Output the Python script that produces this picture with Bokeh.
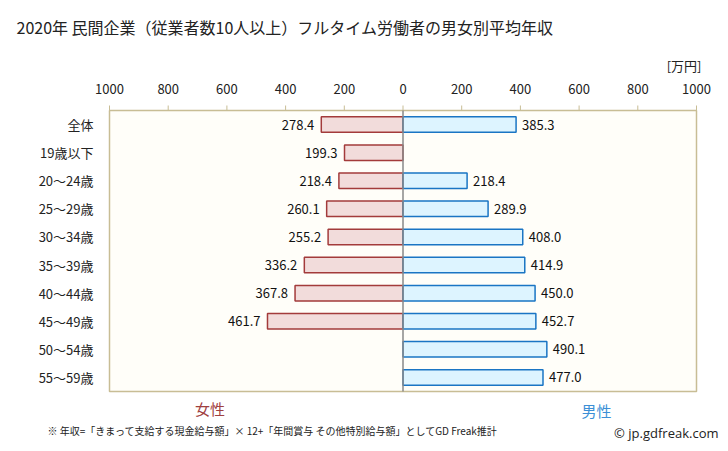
from bokeh.plotting import figure
from bokeh.models import ColumnDataSource, Label, Range1d
from bokeh.core.properties import value
from bokeh.embed import file_html
from bokeh.resources import INLINE

categories = ["全体", "19歳以下", "20～24歳", "25～29歳", "30～34歳",
              "35～39歳", "40～44歳", "45～49歳", "50～54歳", "55～59歳"]
female = [278.4, 199.3, 218.4, 260.1, 255.2, 336.2, 367.8, 461.7, None, None]
male = [385.3, None, 218.4, 289.9, 408.0, 414.9, 450.0, 452.7, 490.1, 477.0]
x_ticks = [-1000, -800, -600, -400, -200, 0, 200, 400, 600, 800, 1000]
x_tick_labels = ["1000", "800", "600", "400", "200", "0", "200", "400", "600", "800", "1000"]

FONT = "Noto Sans CJK JP"
TAN = "#C8BD95"
n = len(categories)
ypos = [n - 0.5 - i for i in range(n)]

# layout (canvas pixels): plot area x 109..696, y 110..391
W, H = 728, 451
PX_LEFT, PX_RIGHT, PX_TOP, PX_BOTTOM = 109, 696, 110, 391
XS = (PX_RIGHT - PX_LEFT) / (x_ticks[-1] - x_ticks[0])   # px per data unit
YS = (PX_BOTTOM - PX_TOP) / n                             # px per row
X0 = PX_LEFT - x_ticks[0] * XS                            # pixel of x=0

def dx(px):
    return (px - X0) / XS

def dy(py):
    return (PX_BOTTOM - py) / YS

f_y = [ypos[i] for i in range(n) if female[i] is not None]
f_v = [female[i] for i in range(n) if female[i] is not None]
m_y = [ypos[i] for i in range(n) if male[i] is not None]
m_v = [male[i] for i in range(n) if male[i] is not None]

fsrc = ColumnDataSource(dict(y=f_y, left=[-v for v in f_v], right=[0] * len(f_v),
                             lab=[f"{v:.1f}" for v in f_v]))
msrc = ColumnDataSource(dict(y=m_y, left=[0] * len(m_v), right=m_v,
                             lab=[f"{v:.1f}" for v in m_v]))

p = figure(width=W, height=H, output_backend="svg", toolbar_location=None,
           x_range=Range1d(dx(0), dx(W)), y_range=Range1d(dy(H), dy(0)),
           x_axis_location=None, y_axis_location=None, min_border=0)
p.min_border_left = p.min_border_right = p.min_border_top = p.min_border_bottom = 0
p.background_fill_color = "white"
p.border_fill_color = "white"
p.outline_line_color = None
p.xgrid.visible = False
p.ygrid.visible = False

# plot area
p.quad(left=x_ticks[0], right=x_ticks[-1], bottom=0, top=n,
       fill_color="#FFFEF9", line_color=TAN, line_width=1.5)

# x axis (top): ticks + labels
p.segment(x0=x_ticks, y0=[n] * len(x_ticks), x1=x_ticks, y1=[n + 5 / YS] * len(x_ticks),
          line_color=TAN, line_width=1)
p.text(x=x_ticks, y=[n] * len(x_ticks), text=x_tick_labels, y_offset=-22,
       text_align="center", text_baseline="middle",
       text_font=value(FONT), text_font_size=value("13px"), text_color="#222222")

# y axis (left): category labels
p.text(x=[x_ticks[0]] * n, y=ypos, text=categories, x_offset=-16,
       text_align="right", text_baseline="middle",
       text_font=value(FONT), text_font_size=value("13px"), text_color="#222222")

BH = 0.55
p.hbar(y="y", left="left", right="right", height=BH, source=fsrc,
       fill_color="#F2DCDB", line_color="#A33B3B", line_width=1.5)
p.hbar(y="y", left="left", right="right", height=BH, source=msrc,
       fill_color="#DDF4FF", line_color="#1A75C4", line_width=1.5)

# zero line
p.segment(x0=[0], y0=[0], x1=[0], y1=[n], line_color="#888888", line_width=1.5)

# value labels
p.text(x="left", y="y", text="lab", source=fsrc, x_offset=-7,
       text_align="right", text_baseline="middle",
       text_font=value(FONT), text_font_size=value("13px"), text_color="#111111")
p.text(x="right", y="y", text="lab", source=msrc, x_offset=6,
       text_align="left", text_baseline="middle",
       text_font=value(FONT), text_font_size=value("13px"), text_color="#111111")

def lab(px, py, text, size, color, align="left", font=FONT):
    p.add_layout(Label(x=dx(px), y=dy(py), text=text, text_font=font, text_font_size=size,
                       text_color=color, text_align=align, text_baseline="middle"))

lab(16, 26, "2020年 民間企業（従業者数10人以上）フルタイム労働者の男女別平均年収", "16px", "#222222")
lab(701, 65, "[万円]", "13px", "#222222", "right")
lab(209.5, 408, "女性", "15px", "#A0403F", "center")
lab(596, 410, "男性", "15px", "#3C8FD6", "center")
lab(47, 429.5, "※ 年収=「きまって支給する現金給与額」× 12+「年間賞与 その他特別給与額」としてGD Freak推計", "10px", "#222222")
lab(718, 432, "© jp.gdfreak.com", "13px", "#222222", "right", "Open Sans")

open("out.html", "w").write(file_html(p, INLINE))
